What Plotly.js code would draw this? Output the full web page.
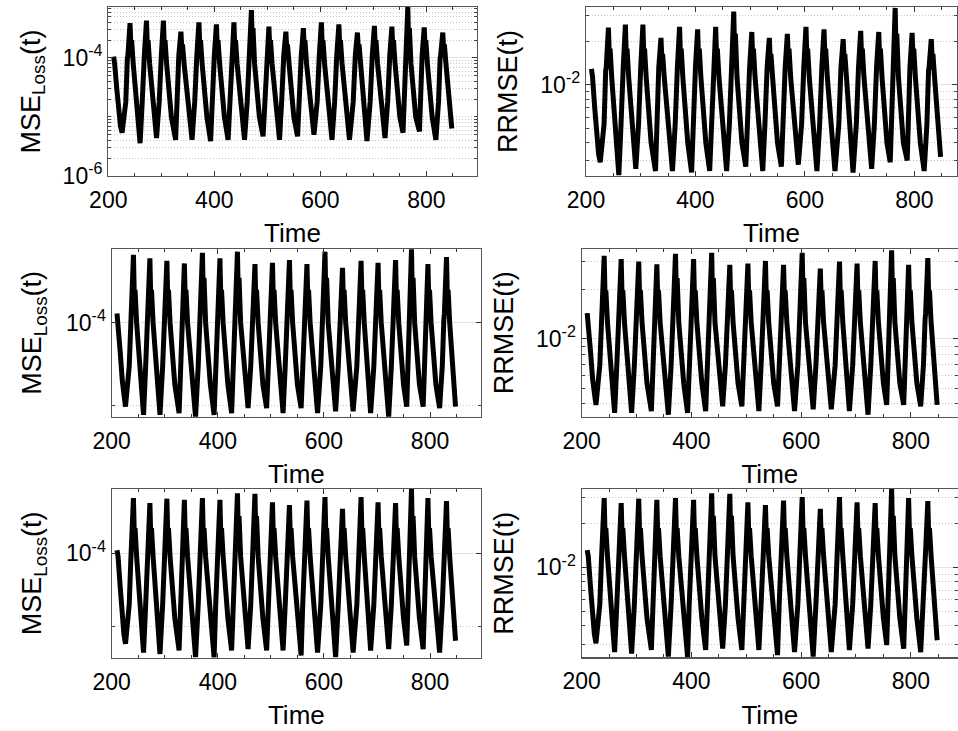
<!DOCTYPE html>
<html><head><meta charset="utf-8">
<script src="https://cdn.plot.ly/plotly-3.0.1.min.js"></script>
<style>html,body{margin:0;padding:0;background:#fff}#chart{width:958px;height:731px}</style>
</head><body><div id="chart"></div>
<script>
const time = [210,212,216,220,223,
226,233,236,237,241,243,244,247,252,256,
260,264,267,268,272,274,275,278,283,287,
291,296,299,300,304,306,307,310,315,319,
327,330,332,333,337,339,340,343,348,352,
358,363,366,367,371,373,374,377,382,386,
393,396,399,400,404,406,407,410,415,419,
426,429,432,433,437,439,440,443,448,452,
457,462,465,466,470,472,473,476,481,485,
492,495,498,499,503,505,506,509,514,518,
523,527,530,531,535,537,538,541,546,550,
557,560,563,564,568,570,571,574,579,583,
588,594,597,598,602,604,605,608,613,617,
622,627,630,631,635,637,638,641,646,650,
655,662,665,666,670,672,673,676,681,685,
688,694,697,698,702,704,705,708,713,717,
722,727,730,731,735,737,738,741,746,750,
756,758,760,761,765,767,768,771,776,780,
787,789,791,792,796,798,799,802,807,811,
818,823,826,827,831,833,834,837,842,
848];

const mse1 = [1.05e-4,8e-5,3e-5,1.2e-5,7e-6,
5.4e-6,1.8e-5,1.0e-4,1.1e-4,3.9e-4,1.25e-4,2.0e-4,8e-5,2.5e-5,1.0e-5,
3.6e-6,1.8e-5,1.0e-4,1.1e-4,4.3e-4,1.25e-4,2.0e-4,8e-5,2.5e-5,1.0e-5,
4.4e-6,1.8e-5,1.0e-4,1.1e-4,4.3e-4,1.25e-4,2.0e-4,8e-5,2.5e-5,1.0e-5,
4.1e-6,1.8e-5,1.0e-4,1.1e-4,2.8e-4,1.25e-4,1.7e-4,8e-5,2.5e-5,1.0e-5,
4.1e-6,1.8e-5,1.0e-4,1.1e-4,4.0e-4,1.25e-4,2.0e-4,8e-5,2.5e-5,1.0e-5,
3.9e-6,1.8e-5,1.0e-4,1.1e-4,3.7e-4,1.25e-4,2.0e-4,8e-5,2.5e-5,1.0e-5,
4.1e-6,1.8e-5,1.0e-4,1.1e-4,4.0e-4,1.25e-4,2.0e-4,8e-5,2.5e-5,1.0e-5,
4.1e-6,1.8e-5,1.0e-4,1.1e-4,6.5e-4,1.25e-4,3.2e-4,8e-5,2.5e-5,1.0e-5,
4.7e-6,1.8e-5,1.0e-4,1.1e-4,3.4e-4,1.25e-4,2.0e-4,8e-5,2.5e-5,1.0e-5,
4.1e-6,1.8e-5,1.0e-4,1.1e-4,2.8e-4,1.25e-4,1.7e-4,8e-5,2.5e-5,1.0e-5,
4.7e-6,1.8e-5,1.0e-4,1.1e-4,3.2e-4,1.25e-4,2.0e-4,8e-5,2.5e-5,1.0e-5,
5.0e-6,1.8e-5,1.0e-4,1.1e-4,4.0e-4,1.25e-4,2.0e-4,8e-5,2.5e-5,1.0e-5,
4.1e-6,1.8e-5,1.0e-4,1.1e-4,3.7e-4,1.25e-4,2.0e-4,8e-5,2.5e-5,1.0e-5,
4.1e-6,1.8e-5,1.0e-4,1.1e-4,2.7e-4,1.25e-4,1.7e-4,8e-5,2.5e-5,1.0e-5,
3.9e-6,1.8e-5,1.0e-4,1.1e-4,3.5e-4,1.25e-4,2.0e-4,8e-5,2.5e-5,1.0e-5,
4.4e-6,1.8e-5,1.0e-4,1.1e-4,3.4e-4,1.25e-4,2.0e-4,8e-5,2.5e-5,1.0e-5,
5.4e-6,1.8e-5,1.0e-4,1.1e-4,7.3e-4,1.25e-4,3.2e-4,8e-5,2.5e-5,1.0e-5,
5.7e-6,1.8e-5,1.0e-4,1.1e-4,3.3e-4,1.25e-4,2.0e-4,8e-5,2.5e-5,1.0e-5,
4.1e-6,1.8e-5,1.0e-4,1.1e-4,2.7e-4,1.25e-4,1.7e-4,8e-5,2.5e-5,
6.4e-6];

const rrmse1 = [1.29e-2,1.13e-2,6.9e-3,4.36e-3,3.33e-3,
2.93e-3,5.35e-3,1.26e-2,1.32e-2,2.49e-2,1.41e-2,1.78e-2,1.13e-2,6.3e-3,3.98e-3,
2.39e-3,5.35e-3,1.26e-2,1.32e-2,2.61e-2,1.41e-2,1.78e-2,1.13e-2,6.3e-3,3.98e-3,
2.64e-3,5.35e-3,1.26e-2,1.32e-2,2.61e-2,1.41e-2,1.78e-2,1.13e-2,6.3e-3,3.98e-3,
2.55e-3,5.35e-3,1.26e-2,1.32e-2,2.11e-2,1.41e-2,1.64e-2,1.13e-2,6.3e-3,3.98e-3,
2.55e-3,5.35e-3,1.26e-2,1.32e-2,2.52e-2,1.41e-2,1.78e-2,1.13e-2,6.3e-3,3.98e-3,
2.49e-3,5.35e-3,1.26e-2,1.32e-2,2.42e-2,1.41e-2,1.78e-2,1.13e-2,6.3e-3,3.98e-3,
2.55e-3,5.35e-3,1.26e-2,1.32e-2,2.52e-2,1.41e-2,1.78e-2,1.13e-2,6.3e-3,3.98e-3,
2.55e-3,5.35e-3,1.26e-2,1.32e-2,3.21e-2,1.41e-2,2.25e-2,1.13e-2,6.3e-3,3.98e-3,
2.73e-3,5.35e-3,1.26e-2,1.32e-2,2.32e-2,1.41e-2,1.78e-2,1.13e-2,6.3e-3,3.98e-3,
2.55e-3,5.35e-3,1.26e-2,1.32e-2,2.11e-2,1.41e-2,1.64e-2,1.13e-2,6.3e-3,3.98e-3,
2.73e-3,5.35e-3,1.26e-2,1.32e-2,2.25e-2,1.41e-2,1.78e-2,1.13e-2,6.3e-3,3.98e-3,
2.82e-3,5.35e-3,1.26e-2,1.32e-2,2.52e-2,1.41e-2,1.78e-2,1.13e-2,6.3e-3,3.98e-3,
2.55e-3,5.35e-3,1.26e-2,1.32e-2,2.42e-2,1.41e-2,1.78e-2,1.13e-2,6.3e-3,3.98e-3,
2.55e-3,5.35e-3,1.26e-2,1.32e-2,2.07e-2,1.41e-2,1.64e-2,1.13e-2,6.3e-3,3.98e-3,
2.49e-3,5.35e-3,1.26e-2,1.32e-2,2.36e-2,1.41e-2,1.78e-2,1.13e-2,6.3e-3,3.98e-3,
2.64e-3,5.35e-3,1.26e-2,1.32e-2,2.32e-2,1.41e-2,1.78e-2,1.13e-2,6.3e-3,3.98e-3,
2.93e-3,5.35e-3,1.26e-2,1.32e-2,3.40e-2,1.41e-2,2.25e-2,1.13e-2,6.3e-3,3.98e-3,
3.01e-3,5.35e-3,1.26e-2,1.32e-2,2.29e-2,1.41e-2,1.78e-2,1.13e-2,6.3e-3,3.98e-3,
2.55e-3,5.35e-3,1.26e-2,1.32e-2,2.07e-2,1.41e-2,1.64e-2,1.13e-2,6.3e-3,
3.19e-3];

const mse2 = [1.3e-4,1.0e-4,4.5e-5,2e-5,1.2e-5,
9.8e-6,3e-5,1.1e-4,1.3e-4,6.6e-4,1.5e-4,2.5e-4,1.0e-4,4e-5,1.8e-5,
7.8e-6,3e-5,1.1e-4,1.3e-4,6.0e-4,1.5e-4,2.5e-4,1.0e-4,4e-5,1.8e-5,
7.8e-6,3e-5,1.1e-4,1.3e-4,5.6e-4,1.5e-4,2.5e-4,1.0e-4,4e-5,1.8e-5,
8.2e-6,3e-5,1.1e-4,1.3e-4,5.2e-4,1.5e-4,2.5e-4,1.0e-4,4e-5,1.8e-5,
7.4e-6,3e-5,1.1e-4,1.3e-4,7.0e-4,1.5e-4,3.5e-4,1.0e-4,4e-5,1.8e-5,
7.8e-6,3e-5,1.1e-4,1.3e-4,6.0e-4,1.5e-4,2.5e-4,1.0e-4,4e-5,1.8e-5,
8.2e-6,3e-5,1.1e-4,1.3e-4,7.2e-4,1.5e-4,3.5e-4,1.0e-4,4e-5,1.8e-5,
9.4e-6,3e-5,1.1e-4,1.3e-4,5.1e-4,1.5e-4,2.5e-4,1.0e-4,4e-5,1.8e-5,
9.4e-6,3e-5,1.1e-4,1.3e-4,5.3e-4,1.5e-4,2.5e-4,1.0e-4,4e-5,1.8e-5,
8.2e-6,3e-5,1.1e-4,1.3e-4,5.7e-4,1.5e-4,2.5e-4,1.0e-4,4e-5,1.8e-5,
9.4e-6,3e-5,1.1e-4,1.3e-4,5.1e-4,1.5e-4,2.5e-4,1.0e-4,4e-5,1.8e-5,
8.2e-6,3e-5,1.1e-4,1.3e-4,7.2e-4,1.5e-4,3.5e-4,1.0e-4,4e-5,1.8e-5,
8.6e-6,3e-5,1.1e-4,1.3e-4,4.6e-4,1.5e-4,2.5e-4,1.0e-4,4e-5,1.8e-5,
8.6e-6,3e-5,1.1e-4,1.3e-4,5.6e-4,1.5e-4,2.5e-4,1.0e-4,4e-5,1.8e-5,
8.2e-6,3e-5,1.1e-4,1.3e-4,5.3e-4,1.5e-4,2.5e-4,1.0e-4,4e-5,1.8e-5,
7.4e-6,3e-5,1.1e-4,1.3e-4,5.7e-4,1.5e-4,2.5e-4,1.0e-4,4e-5,1.8e-5,
9.8e-6,3e-5,1.1e-4,1.3e-4,7.7e-4,1.5e-4,3.5e-4,1.0e-4,4e-5,1.8e-5,
9.8e-6,3e-5,1.1e-4,1.3e-4,5.1e-4,1.5e-4,2.5e-4,1.0e-4,4e-5,1.8e-5,
9.4e-6,3e-5,1.1e-4,1.3e-4,6.2e-4,1.5e-4,2.5e-4,1.0e-4,4e-5,
9.8e-6];

const rrmse2 = [1.44e-2,1.26e-2,8.45e-3,5.63e-3,4.36e-3,
3.94e-3,6.9e-3,1.32e-2,1.44e-2,3.24e-2,1.54e-2,1.99e-2,1.26e-2,7.97e-3,5.35e-3,
3.52e-3,6.9e-3,1.32e-2,1.44e-2,3.09e-2,1.54e-2,1.99e-2,1.26e-2,7.97e-3,5.35e-3,
3.52e-3,6.9e-3,1.32e-2,1.44e-2,2.98e-2,1.54e-2,1.99e-2,1.26e-2,7.97e-3,5.35e-3,
3.61e-3,6.9e-3,1.32e-2,1.44e-2,2.87e-2,1.54e-2,1.99e-2,1.26e-2,7.97e-3,5.35e-3,
3.43e-3,6.9e-3,1.32e-2,1.44e-2,3.33e-2,1.54e-2,2.36e-2,1.26e-2,7.97e-3,5.35e-3,
3.52e-3,6.9e-3,1.32e-2,1.44e-2,3.09e-2,1.54e-2,1.99e-2,1.26e-2,7.97e-3,5.35e-3,
3.61e-3,6.9e-3,1.32e-2,1.44e-2,3.38e-2,1.54e-2,2.36e-2,1.26e-2,7.97e-3,5.35e-3,
3.86e-3,6.9e-3,1.32e-2,1.44e-2,2.85e-2,1.54e-2,1.99e-2,1.26e-2,7.97e-3,5.35e-3,
3.86e-3,6.9e-3,1.32e-2,1.44e-2,2.90e-2,1.54e-2,1.99e-2,1.26e-2,7.97e-3,5.35e-3,
3.61e-3,6.9e-3,1.32e-2,1.44e-2,3.01e-2,1.54e-2,1.99e-2,1.26e-2,7.97e-3,5.35e-3,
3.86e-3,6.9e-3,1.32e-2,1.44e-2,2.85e-2,1.54e-2,1.99e-2,1.26e-2,7.97e-3,5.35e-3,
3.61e-3,6.9e-3,1.32e-2,1.44e-2,3.38e-2,1.54e-2,2.36e-2,1.26e-2,7.97e-3,5.35e-3,
3.70e-3,6.9e-3,1.32e-2,1.44e-2,2.70e-2,1.54e-2,1.99e-2,1.26e-2,7.97e-3,5.35e-3,
3.70e-3,6.9e-3,1.32e-2,1.44e-2,2.98e-2,1.54e-2,1.99e-2,1.26e-2,7.97e-3,5.35e-3,
3.61e-3,6.9e-3,1.32e-2,1.44e-2,2.90e-2,1.54e-2,1.99e-2,1.26e-2,7.97e-3,5.35e-3,
3.43e-3,6.9e-3,1.32e-2,1.44e-2,3.01e-2,1.54e-2,1.99e-2,1.26e-2,7.97e-3,5.35e-3,
3.94e-3,6.9e-3,1.32e-2,1.44e-2,3.50e-2,1.54e-2,2.36e-2,1.26e-2,7.97e-3,5.35e-3,
3.94e-3,6.9e-3,1.32e-2,1.44e-2,2.85e-2,1.54e-2,1.99e-2,1.26e-2,7.97e-3,5.35e-3,
3.86e-3,6.9e-3,1.32e-2,1.44e-2,3.14e-2,1.54e-2,1.99e-2,1.26e-2,7.97e-3,
3.94e-3];

const mse3 = [1.1e-4,9e-5,3.5e-5,1.3e-5,8e-6,
5.9e-6,2e-5,8e-5,1.1e-4,5.6e-4,1.3e-4,2.2e-4,9e-5,3e-5,1.3e-5,
4.5e-6,2e-5,8e-5,1.1e-4,4.8e-4,1.3e-4,2.2e-4,9e-5,3e-5,1.3e-5,
4.3e-6,2e-5,8e-5,1.1e-4,5.5e-4,1.3e-4,2.2e-4,9e-5,3e-5,1.3e-5,
4.8e-6,2e-5,8e-5,1.1e-4,5.3e-4,1.3e-4,2.2e-4,9e-5,3e-5,1.3e-5,
3.9e-6,2e-5,8e-5,1.1e-4,5.6e-4,1.3e-4,2.2e-4,9e-5,3e-5,1.3e-5,
3.85e-6,2e-5,8e-5,1.1e-4,5.3e-4,1.3e-4,2.2e-4,9e-5,3e-5,1.3e-5,
4.8e-6,2e-5,8e-5,1.1e-4,6.5e-4,1.3e-4,3.2e-4,9e-5,3e-5,1.3e-5,
5.0e-6,2e-5,8e-5,1.1e-4,6.4e-4,1.3e-4,3.2e-4,9e-5,3e-5,1.3e-5,
4.8e-6,2e-5,8e-5,1.1e-4,4.9e-4,1.3e-4,2.2e-4,9e-5,3e-5,1.3e-5,
4.8e-6,2e-5,8e-5,1.1e-4,4.5e-4,1.3e-4,2.2e-4,9e-5,3e-5,1.3e-5,
4.1e-6,2e-5,8e-5,1.1e-4,5.2e-4,1.3e-4,2.2e-4,9e-5,3e-5,1.3e-5,
4.5e-6,2e-5,8e-5,1.1e-4,5.8e-4,1.3e-4,2.2e-4,9e-5,3e-5,1.3e-5,
3.9e-6,2e-5,8e-5,1.1e-4,4.0e-4,1.3e-4,2.2e-4,9e-5,3e-5,1.3e-5,
4.5e-6,2e-5,8e-5,1.1e-4,5.8e-4,1.3e-4,2.2e-4,9e-5,3e-5,1.3e-5,
4.8e-6,2e-5,8e-5,1.1e-4,4.9e-4,1.3e-4,2.2e-4,9e-5,3e-5,1.3e-5,
5.0e-6,2e-5,8e-5,1.1e-4,4.8e-4,1.3e-4,2.2e-4,9e-5,3e-5,1.3e-5,
5.6e-6,2e-5,8e-5,1.1e-4,7.5e-4,1.3e-4,3.2e-4,9e-5,3e-5,1.3e-5,
5.0e-6,2e-5,8e-5,1.1e-4,5.6e-4,1.3e-4,2.2e-4,9e-5,3e-5,1.3e-5,
4.5e-6,2e-5,8e-5,1.1e-4,5.1e-4,1.3e-4,2.2e-4,9e-5,3e-5,
6.5e-6];

const rrmse3 = [1.31e-2,1.19e-2,7.4e-3,4.51e-3,3.54e-3,
3.04e-3,5.59e-3,1.12e-2,1.31e-2,2.96e-2,1.43e-2,1.85e-2,1.19e-2,6.85e-3,4.51e-3,
2.65e-3,5.59e-3,1.12e-2,1.31e-2,2.74e-2,1.43e-2,1.85e-2,1.19e-2,6.85e-3,4.51e-3,
2.59e-3,5.59e-3,1.12e-2,1.31e-2,2.93e-2,1.43e-2,1.85e-2,1.19e-2,6.85e-3,4.51e-3,
2.74e-3,5.59e-3,1.12e-2,1.31e-2,2.88e-2,1.43e-2,1.85e-2,1.19e-2,6.85e-3,4.51e-3,
2.47e-3,5.59e-3,1.12e-2,1.31e-2,2.96e-2,1.43e-2,1.85e-2,1.19e-2,6.85e-3,4.51e-3,
2.45e-3,5.59e-3,1.12e-2,1.31e-2,2.88e-2,1.43e-2,1.85e-2,1.19e-2,6.85e-3,4.51e-3,
2.74e-3,5.59e-3,1.12e-2,1.31e-2,3.19e-2,1.43e-2,2.24e-2,1.19e-2,6.85e-3,4.51e-3,
2.80e-3,5.59e-3,1.12e-2,1.31e-2,3.16e-2,1.43e-2,2.24e-2,1.19e-2,6.85e-3,4.51e-3,
2.74e-3,5.59e-3,1.12e-2,1.31e-2,2.77e-2,1.43e-2,1.85e-2,1.19e-2,6.85e-3,4.51e-3,
2.74e-3,5.59e-3,1.12e-2,1.31e-2,2.65e-2,1.43e-2,1.85e-2,1.19e-2,6.85e-3,4.51e-3,
2.53e-3,5.59e-3,1.12e-2,1.31e-2,2.85e-2,1.43e-2,1.85e-2,1.19e-2,6.85e-3,4.51e-3,
2.65e-3,5.59e-3,1.12e-2,1.31e-2,3.01e-2,1.43e-2,1.85e-2,1.19e-2,6.85e-3,4.51e-3,
2.47e-3,5.59e-3,1.12e-2,1.31e-2,2.50e-2,1.43e-2,1.85e-2,1.19e-2,6.85e-3,4.51e-3,
2.65e-3,5.59e-3,1.12e-2,1.31e-2,3.01e-2,1.43e-2,1.85e-2,1.19e-2,6.85e-3,4.51e-3,
2.74e-3,5.59e-3,1.12e-2,1.31e-2,2.77e-2,1.43e-2,1.85e-2,1.19e-2,6.85e-3,4.51e-3,
2.80e-3,5.59e-3,1.12e-2,1.31e-2,2.74e-2,1.43e-2,1.85e-2,1.19e-2,6.85e-3,4.51e-3,
2.96e-3,5.59e-3,1.12e-2,1.31e-2,3.42e-2,1.43e-2,2.24e-2,1.19e-2,6.85e-3,4.51e-3,
2.80e-3,5.59e-3,1.12e-2,1.31e-2,2.96e-2,1.43e-2,1.85e-2,1.19e-2,6.85e-3,4.51e-3,
2.65e-3,5.59e-3,1.12e-2,1.31e-2,2.82e-2,1.43e-2,1.85e-2,1.19e-2,6.85e-3,
3.19e-3];

const xTickVals = [200, 400, 600, 800];
const xTickText = ['200', '400', '600', '800'];
const mseTickVals1 = [1e-6, 1e-4];
const mseTickText1 = ['10<sup>-6</sup>', '10<sup>-4</sup>'];
const mseTickVals = [1e-4];
const mseTickText = ['10<sup>-4</sup>'];
const rrmseTickVals = [1e-2];
const rrmseTickText = ['10<sup>-2</sup>'];
const mseMinor1 = [2e-6,3e-6,4e-6,5e-6,6e-6,7e-6,8e-6,9e-6,1e-5,2e-5,3e-5,4e-5,5e-5,6e-5,7e-5,8e-5,9e-5,2e-4,3e-4,4e-4,5e-4,6e-4,7e-4];
const mseMinor = [1e-5];
const rrmseMinor = [3e-3,4e-3,5e-3,6e-3,7e-3,8e-3,9e-3,2e-2,3e-2];
const xLabel = 'Time';
const mseLabel = 'MSE<sub>Loss</sub>(t)';
const rrmseLabel = 'RRMSE(t)';

const FONT = 'Liberation Sans, Arial, Helvetica, sans-serif';
const W = 958, H = 731;

function xAxis(px0, px1, range, anchor) {
  return {
    domain: [px0 / W, Math.min(1, px1 / W)], range: range, anchor: anchor,
    tickmode: 'array', tickvals: xTickVals, ticktext: xTickText,
    ticks: 'inside', ticklen: 5, tickwidth: 1, tickcolor: '#333',
    showline: true, linecolor: '#555', linewidth: 1.2, mirror: 'allticks',
    showgrid: false, zeroline: false, fixedrange: true, ticklabelstandoff: 3,
    minor: {dtick: 50, tick0: 200, ticks: 'inside', ticklen: 3, tickcolor: '#333', showgrid: false},
    tickfont: {family: FONT, size: 23, color: '#000'},
    title: {text: xLabel, font: {family: FONT, size: 26, color: '#000'}, standoff: 12}
  };
}
function yAxis(py0, py1, range, anchor, tv, tt, minorVals, label, standoff) {
  return {
    domain: [1 - py1 / H, 1 - py0 / H], type: 'log', range: range, anchor: anchor,
    tickmode: 'array', tickvals: tv, ticktext: tt,
    ticks: 'inside', ticklen: 5, tickwidth: 1, tickcolor: '#333',
    showline: true, linecolor: '#555', linewidth: 1.2, mirror: 'allticks',
    showgrid: true, gridcolor: '#e2e2e2', gridwidth: 1, zeroline: false, fixedrange: true,
    minor: {tickmode: 'array', tickvals: minorVals, ticks: 'inside', ticklen: 3, tickcolor: '#444',
            showgrid: true, gridcolor: '#c4c4c4', griddash: '1px,2px', gridwidth: 1},
    tickfont: {family: FONT, size: 23, color: '#000'},
    title: {text: label, font: {family: FONT, size: 27, color: '#000'}, standoff: standoff}
  };
}

const line = {color: '#000', width: 5};
const traces = [
  {x: time, y: mse1, xaxis: 'x', yaxis: 'y'},
  {x: time, y: rrmse1, xaxis: 'x2', yaxis: 'y2'},
  {x: time, y: mse2, xaxis: 'x3', yaxis: 'y3'},
  {x: time, y: rrmse2, xaxis: 'x4', yaxis: 'y4'},
  {x: time, y: mse3, xaxis: 'x5', yaxis: 'y5'},
  {x: time, y: rrmse3, xaxis: 'x6', yaxis: 'y6'}
].map(t => Object.assign({type: 'scatter', mode: 'lines', line: line, hoverinfo: 'skip', cliponaxis: true}, t));

const layout = {
  width: W, height: H, margin: {l: 0, r: 0, t: 0, b: 0},
  paper_bgcolor: '#fff', plot_bgcolor: '#fff', showlegend: false,
  font: {family: FONT, color: '#000'},
  xaxis:  xAxis(108.3, 476.7, [200, 895], 'y'),
  xaxis2: xAxis(586, 957, [200, 878], 'y2'),
  xaxis3: xAxis(111.7, 481, [200, 896], 'y3'),
  xaxis4: xAxis(581.7, 958, [200, 886], 'y4'),
  xaxis5: xAxis(111.7, 481, [200, 896], 'y5'),
  xaxis6: xAxis(581.7, 958, [200, 886], 'y6'),
  yaxis:  yAxis(7, 176, [-6, -3.136], 'x', mseTickVals1, mseTickText1, mseMinor1, mseLabel, 14),
  yaxis2: yAxis(7, 176, [-2.628, -1.462], 'x2', rrmseTickVals, rrmseTickText, rrmseMinor, rrmseLabel, 14),
  yaxis3: yAxis(249, 416.7, [-5.13, -3.11], 'x3', mseTickVals, mseTickText, mseMinor, mseLabel, 16),
  yaxis4: yAxis(249, 416.7, [-2.477, -1.448], 'x4', rrmseTickVals, rrmseTickText, rrmseMinor, rrmseLabel, 14),
  yaxis5: yAxis(489, 657.7, [-5.417, -3.128], 'x5', mseTickVals, mseTickText, mseMinor, mseLabel, 16),
  yaxis6: yAxis(489, 657.3, [-2.612, -1.467], 'x6', rrmseTickVals, rrmseTickText, rrmseMinor, rrmseLabel, 14)
};

Plotly.newPlot('chart', traces, layout, {displayModeBar: false, staticPlot: true});
</script>
</body></html>
